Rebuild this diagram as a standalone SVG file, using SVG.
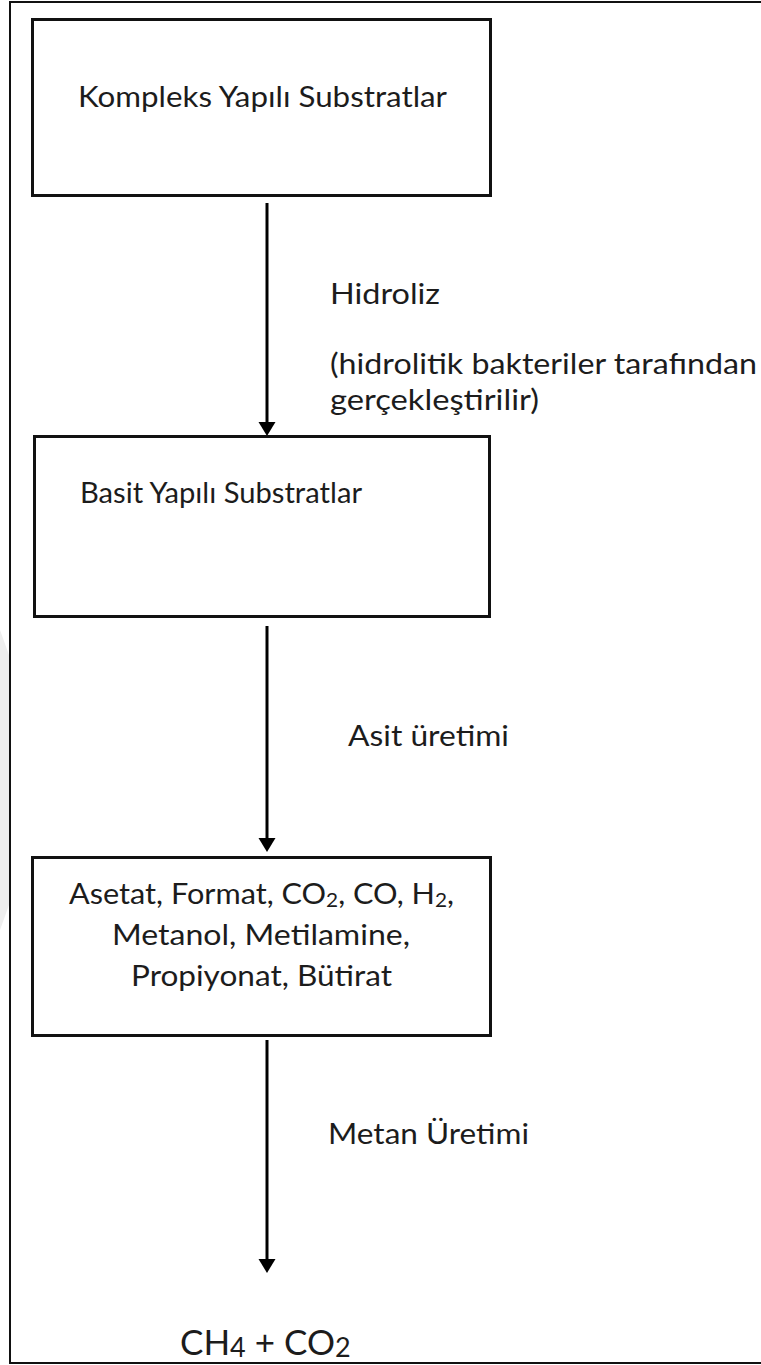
<svg xmlns="http://www.w3.org/2000/svg" width="761" height="1365" viewBox="0 0 761 1365">
  <defs>
    <style>
      .box { fill: #fff; stroke: #111; stroke-width: 3; }
      .frame { fill: none; stroke: #111; stroke-width: 2; }
      .edge { stroke: #000; stroke-width: 3; fill: none; }
      .head { fill: #000; }
      .t { font-family: Lato, "Open Sans", "Liberation Sans", sans-serif; font-size: 28px; fill: #1c1c1c; }
      .big { font-size: 35px; }
      .sub { font-size: 19px; }
      .subBig { font-size: 27px; }
    </style>
  </defs>

  <rect width="761" height="1365" fill="#fff"/>
  <!-- faint mark along the left margin -->
  <path d="M0 630 L9 655 L9 905 L0 930 Z" fill="#eeeeee"/>
  <!-- page frame, open on the right -->
  <path class="frame" d="M761 2 H10 V1363 H761"/>

  <g id="connectors">
    <line class="edge" x1="267" y1="203" x2="267" y2="430"/>
    <line class="edge" x1="267" y1="626" x2="267" y2="846"/>
    <line class="edge" x1="267" y1="1040" x2="267" y2="1267"/>
    <polygon class="head" points="258.5,422 275.5,422 267,436"/>
    <polygon class="head" points="258.5,838 275.5,838 267,852"/>
    <polygon class="head" points="258.5,1259 275.5,1259 267,1273"/>
  </g>

  <g id="node-kompleks">
    <rect class="box" x="32.5" y="19.5" width="458" height="176"/>
    <text class="t" x="78" y="107" textLength="369" lengthAdjust="spacingAndGlyphs">Kompleks Yapılı Substratlar</text>
  </g>

  <g id="label-hidroliz">
    <text class="t" x="330" y="304" textLength="110" lengthAdjust="spacingAndGlyphs">Hidroliz</text>
    <text class="t" x="330" y="374" textLength="427" lengthAdjust="spacingAndGlyphs">(hidrolitik bakteriler tarafından</text>
    <text class="t" x="330" y="410" textLength="209" lengthAdjust="spacingAndGlyphs">gerçekleştirilir)</text>
  </g>

  <g id="node-basit">
    <rect class="box" x="34.5" y="436.5" width="455" height="180"/>
    <text class="t" x="80" y="503" textLength="282" lengthAdjust="spacingAndGlyphs">Basit Yapılı Substratlar</text>
  </g>

  <g id="label-asit">
    <text class="t" x="348" y="746" textLength="161" lengthAdjust="spacingAndGlyphs">Asit üretimi</text>
  </g>

  <g id="node-ara-urunler">
    <rect class="box" x="32.5" y="857.5" width="458" height="178"/>
    <text class="t" x="69" y="904" textLength="385" lengthAdjust="spacingAndGlyphs">Asetat, Format, CO<tspan class="sub" dy="3">2</tspan><tspan dy="-3">, CO, H</tspan><tspan class="sub" dy="3">2</tspan><tspan dy="-3">,</tspan></text>
    <text class="t" x="112" y="945" textLength="298" lengthAdjust="spacingAndGlyphs">Metanol, Metilamine,</text>
    <text class="t" x="131" y="986" textLength="261" lengthAdjust="spacingAndGlyphs">Propiyonat, Bütirat</text>
  </g>

  <g id="label-metan">
    <text class="t" x="328" y="1144" textLength="201" lengthAdjust="spacingAndGlyphs">Metan Üretimi</text>
  </g>

  <g id="node-urun">
    <text class="t big" x="180" y="1355">CH<tspan class="subBig" dy="2">4</tspan><tspan dy="-2"> + CO</tspan><tspan class="subBig" dy="2">2</tspan></text>
  </g>
</svg>
